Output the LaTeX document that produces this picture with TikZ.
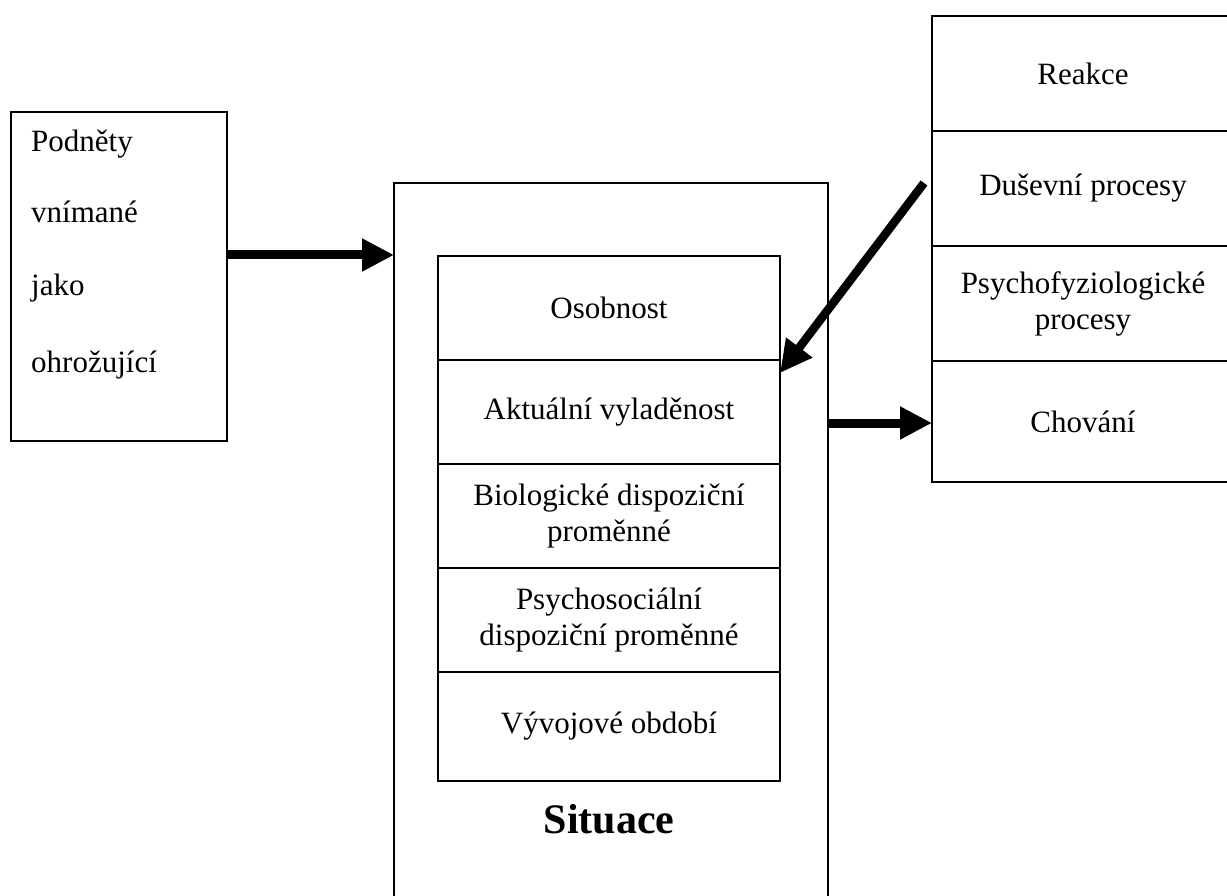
\documentclass[tikz,border=0pt]{standalone}
\usepackage{fontspec}
\setmainfont{Liberation Serif}
\usetikzlibrary{arrows.meta}
\begin{document}
\begin{tikzpicture}[x=1pt,y=-1pt,
  box/.style={draw=black,line width=1.4pt,rectangle,inner sep=0pt,outer sep=0pt},
  cell/.style={box,line width=1.8pt,minimum width=342pt,align=center,font=\fontsize{31}{36}\selectfont},
  rcell/.style={box,line width=1.8pt,minimum width=302pt,align=center,font=\fontsize{31}{36}\selectfont},
  ltxt/.style={anchor=base west,inner sep=0pt,font=\fontsize{31}{36}\selectfont},
  arr/.style={line width=9pt,-{Triangle[length=32pt,width=31pt]}}]
\useasboundingbox (0,0) rectangle (1227,896);
\clip (0,0) rectangle (1227,896);
\fill[white] (0,0) rectangle (1227,896);
% left box
\node[box,minimum width=216pt,minimum height=329pt] (L) at (119,276.5) {};
\node[ltxt] (l1) at (31,152) {Podněty};
\node[ltxt] (l2) at (31,223) {vnímané};
\node[ltxt] (l3) at (31,295) {jako};
\node[ltxt] (l4) at (31,372) {ohrožující};
% situation box
\node[box,line width=1.3pt,minimum width=434pt,minimum height=747pt] (S) at (611,556.5) {};
\node[cell,minimum height=104pt] (c1) at (609,308) {Osobnost};
\node[cell,minimum height=104pt] (c2) at (609,412) {Aktuální vyladěnost};
\node[cell,minimum height=104pt] (c3) at (609,516) {Biologické dispoziční\\proměnné};
\node[cell,minimum height=104pt] (c4) at (609,620) {Psychosociální\\dispoziční proměnné};
\node[cell,minimum height=109pt] (c5) at (609,726.5) {Vývojové období};
\node[anchor=base,inner sep=0pt,font=\fontsize{42}{48}\selectfont\bfseries] (sit) at (609,833) {Situace};
% reaction box
\node[rcell,minimum height=115pt] (r1) at (1083,73.5) {Reakce};
\node[rcell,minimum height=115pt] (r2) at (1083,188.5) {Duševní procesy};
\node[rcell,minimum height=115pt] (r3) at (1083,303.5) {Psychofyziologické\\procesy};
\node[rcell,minimum height=121pt] (r4) at (1083,421.5) {Chování};
% arrows
\draw[arr] (L.east |- 0,255) -- (S.west |- 0,255);
\draw[arr] (S.east |- 0,423) -- (r4.west |- 0,423);
\coordinate (d0) at (924,183);
\draw[arr,line width=8.5pt] (d0) -- (c2.north east |- 0,373);
\end{tikzpicture}
\end{document}
